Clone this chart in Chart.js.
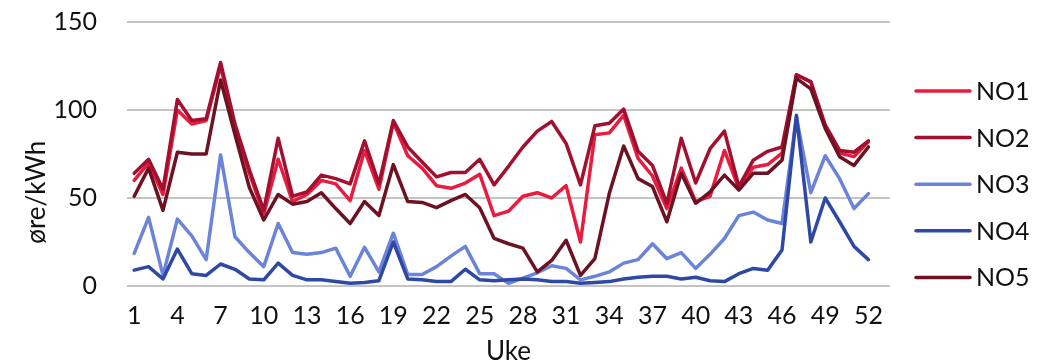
<!DOCTYPE html>
<html>
<head>
<meta charset="utf-8">
<script src="https://cdn.jsdelivr.net/npm/chart.js@4/dist/chart.umd.min.js"></script>
<style>
  html, body { margin: 0; padding: 0; background: #ffffff; }
  canvas { display: block; }
</style>
</head>
<body>
<canvas id="chart" width="1051" height="364"></canvas>
<script>
// Weekly average spot price per bidding zone (øre/kWh)
const weeks = Array.from({ length: 53 }, (_, i) => String(i + 1));

const no1 = [60, 70, 52, 100, 92, 94, 125, 90, 64, 41, 72, 48, 52, 60, 58, 48.5, 77, 55, 93, 74,
             67, 57, 55.5, 58.5, 63.5, 40, 42.5, 51, 53, 50, 57, 25, 86, 87, 97, 72.5, 62.5, 44, 67, 48,
             51, 77, 55.5, 67.5, 69, 75.5, 120, 116, 90.5, 75.5, 73.5, 82];
const no2 = [64, 72, 55, 106, 94, 95, 127, 92, 66, 43, 84, 51, 53.5, 63, 61, 58, 82.5, 58, 94, 79,
             70.5, 62, 64.5, 64.5, 72, 57.5, 68, 79, 88, 93.5, 81, 57.5, 91, 92.5, 100.5, 76.5, 68.5, 47, 84, 58.5,
             78, 88, 56.5, 71.5, 76.5, 79, 120, 116, 91.5, 77, 76, 82.5];
const no3 = [18.5, 39, 6, 38, 28.5, 15, 74.5, 28, 19, 11, 35.5, 19, 18, 19, 21.5, 5.5, 22, 8, 30, 6.5,
             6.5, 11, 17, 22.5, 7, 7, 1.5, 4.5, 7.5, 11.5, 10, 3.5, 5.5, 8, 13, 15, 24, 15.5, 19, 10,
             18, 27, 40, 42, 37.5, 35.5, 96, 53, 74, 61, 44, 52.5];
const no4 = [9, 11, 4, 21, 7, 6, 12.5, 9.5, 4, 3.5, 13, 6, 3.5, 3.5, 2.5, 1.5, 2, 3, 25, 4,
             3.5, 2.5, 2.5, 9.5, 3.5, 3, 3.5, 4, 3.5, 2.5, 2.5, 1.5, 2, 2.5, 4, 5, 5.5, 5.5, 4, 5,
             3, 2.5, 7, 10, 9, 20.5, 97, 25, 50, 36.5, 22.5, 15];
const no5 = [51, 67, 43, 76, 75, 75, 117, 86, 56, 37.5, 52, 46.5, 48, 53, 44, 35.5, 48, 40, 69, 48,
             47.5, 44.5, 48.5, 52, 44.5, 27, 24, 21.5, 8, 14.5, 26, 6, 15.5, 52.5, 79.5, 61, 56.5, 36.5, 64, 47,
             53.5, 63, 54.5, 64, 64, 71.5, 118, 112, 89.5, 73.5, 68.5, 79];

const seriesNames = ['NO1', 'NO2', 'NO3', 'NO4', 'NO5'];
const seriesValues = [no1, no2, no3, no4, no5];
const seriesColors = ['#E81C3E', '#A30F2E', '#6B84D9', '#2E49A5', '#6C1222'];

const yTicks = [0, 50, 100, 150];
const xTitle = 'Uke';
const yTitle = 'øre/kWh';

const FONT = 'Lato, "Open Sans", sans-serif';
const TEXT = '#111111';

// Rotated y-axis caption
const yTitlePlugin = {
  id: 'yTitle',
  afterDraw(chart) {
    const { ctx, chartArea } = chart;
    ctx.save();
    ctx.translate(37, chartArea.top + (chartArea.bottom - chartArea.top) * 0.645);
    ctx.rotate(-Math.PI / 2);
    ctx.font = '26px ' + FONT;
    ctx.fillStyle = TEXT;
    ctx.textAlign = 'center';
    ctx.textBaseline = 'middle';
    ctx.fillText(yTitle, 0, 0);
    ctx.restore();
  }
};

// Legend column to the right of the plot
const sideLegendPlugin = {
  id: 'sideLegend',
  afterDraw(chart) {
    const { ctx } = chart;
    const x0 = chart.chartArea.right + 26;
    const lineLen = 54;
    const top = 91;
    const step = 46.6;
    ctx.save();
    ctx.font = '25px ' + FONT;
    ctx.textAlign = 'left';
    ctx.textBaseline = 'middle';
    chart.data.datasets.forEach((ds, i) => {
      const y = top + i * step;
      ctx.strokeStyle = ds.borderColor;
      ctx.lineWidth = 3.5;
      ctx.lineCap = 'round';
      ctx.beginPath();
      ctx.moveTo(x0, y);
      ctx.lineTo(x0 + lineLen, y);
      ctx.stroke();
      ctx.fillStyle = TEXT;
      ctx.fillText(ds.label, x0 + lineLen + 6, y + 1);
    });
    ctx.restore();
  }
};

const datasets = seriesNames.map((name, i) => ({
  label: name,
  data: seriesValues[i],
  borderColor: seriesColors[i],
  backgroundColor: seriesColors[i],
  borderWidth: 3.5,
  pointRadius: 0,
  pointHoverRadius: 0,
  tension: 0,
  fill: false,
  borderCapStyle: 'round',
  borderJoinStyle: 'round',
  order: seriesNames.length - i
}));

new Chart(document.getElementById('chart'), {
  type: 'line',
  data: { labels: weeks, datasets },
  options: {
    responsive: false,
    animation: false,
    events: [],
    layout: { padding: { left: 0, right: 161, top: 22, bottom: 0 } },
    plugins: {
      legend: { display: false },
      tooltip: { enabled: false }
    },
    scales: {
      x: {
        type: 'category',
        offset: true,
        grid: { display: false },
        border: { display: false },
        ticks: {
          autoSkip: false,
          maxRotation: 0,
          minRotation: 0,
          padding: 7,
          color: TEXT,
          font: { family: FONT, size: 25 },
          callback(value, index) {
            return index % 3 === 0 ? this.getLabelForValue(value) : '';
          }
        },
        title: {
          display: true,
          text: xTitle,
          color: TEXT,
          font: { family: FONT, size: 26 },
          padding: { top: 0, bottom: -3 }
        },
        afterFit(scale) {
          scale.height = 78;
          scale.paddingLeft = 0;
          scale.paddingRight = 0;
        }
      },
      y: {
        min: yTicks[0],
        max: yTicks[yTicks.length - 1],
        afterBuildTicks(scale) { scale.ticks = yTicks.map(v => ({ value: v })); },
        grid: { color: '#c4c4c4', lineWidth: 2, drawTicks: false },
        border: { display: false },
        ticks: {
          padding: 30,
          color: TEXT,
          font: { family: FONT, size: 25 }
        },
        afterFit(scale) {
          scale.width = 127;
          scale.paddingTop = 0;
          scale.paddingBottom = 0;
        }
      }
    }
  },
  plugins: [yTitlePlugin, sideLegendPlugin]
});
</script>
</body>
</html>
